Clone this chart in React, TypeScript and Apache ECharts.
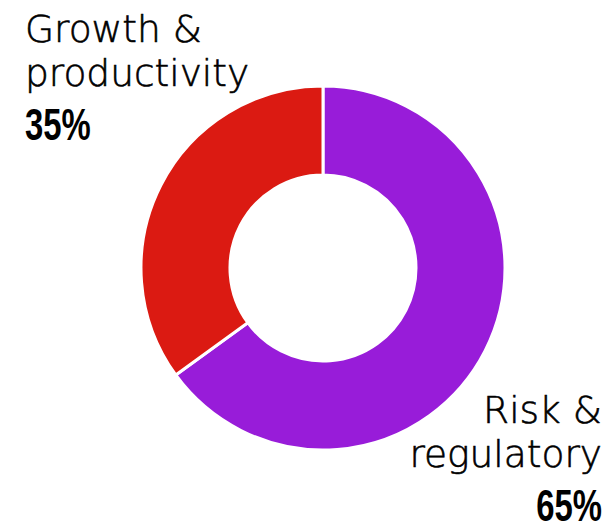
import React, { useEffect, useRef } from "react";
import * as echarts from "echarts";

const categories = ["Risk &\nregulatory", "Growth &\nproductivity"];
const values = [65, 35];
const colors = ["#981cd9", "#db1a12"];

export default function App() {
  const ref = useRef<HTMLDivElement>(null);
  useEffect(() => {
    if (!ref.current) return;
    const chart = echarts.init(ref.current, null, { renderer: "svg" });
    const labelFont = "'DejaVu Sans', sans-serif";
    const pctFont = "'Liberation Sans', Arial, sans-serif";
    chart.setOption({
      animation: false,
      backgroundColor: "#ffffff",
      series: [
        {
          type: "pie",
          center: [323, 268],
          radius: [93, 182],
          startAngle: 90,
          clockwise: true,
          label: { show: false },
          labelLine: { show: false },
          silent: true,
          itemStyle: { borderColor: "#ffffff", borderWidth: 3 },
          data: categories.map((c, i) => ({
            name: c,
            value: values[i],
            itemStyle: { color: colors[i] },
          })),
        },
      ],
      graphic: [
        {
          type: "text",
          x: 25,
          y: 7,
          style: {
            text: categories[1],
            font: `200 37.5px ${labelFont}`,
            lineHeight: 44,
            fill: "#000000",
            stroke: "#000000",
            lineWidth: 0.6,
            textAlign: "left",
            textVerticalAlign: "top",
          },
        },
        {
          type: "text",
          x: 25,
          y: 109,
          scaleX: 0.73,
          style: {
            text: values[1] + "%",
            font: `bold 45px ${pctFont}`,
            lineHeight: 30,
            fill: "#000000",
            textAlign: "left",
            textVerticalAlign: "top",
          },
        },
        {
          type: "text",
          x: 602,
          y: 388,
          style: {
            text: categories[0],
            font: `200 37.5px ${labelFont}`,
            lineHeight: 44,
            fill: "#000000",
            stroke: "#000000",
            lineWidth: 0.6,
            textAlign: "right",
            textVerticalAlign: "top",
          },
        },
        {
          type: "text",
          x: 602,
          y: 490,
          scaleX: 0.73,
          style: {
            text: values[0] + "%",
            font: `bold 45px ${pctFont}`,
            lineHeight: 30,
            fill: "#000000",
            textAlign: "right",
            textVerticalAlign: "top",
          },
        },
      ],
    });
    return () => chart.dispose();
  }, []);
  return (
    <div
      ref={ref}
      style={{ position: "fixed", left: 0, top: 0, width: 607, height: 526 }}
    />
  );
}
